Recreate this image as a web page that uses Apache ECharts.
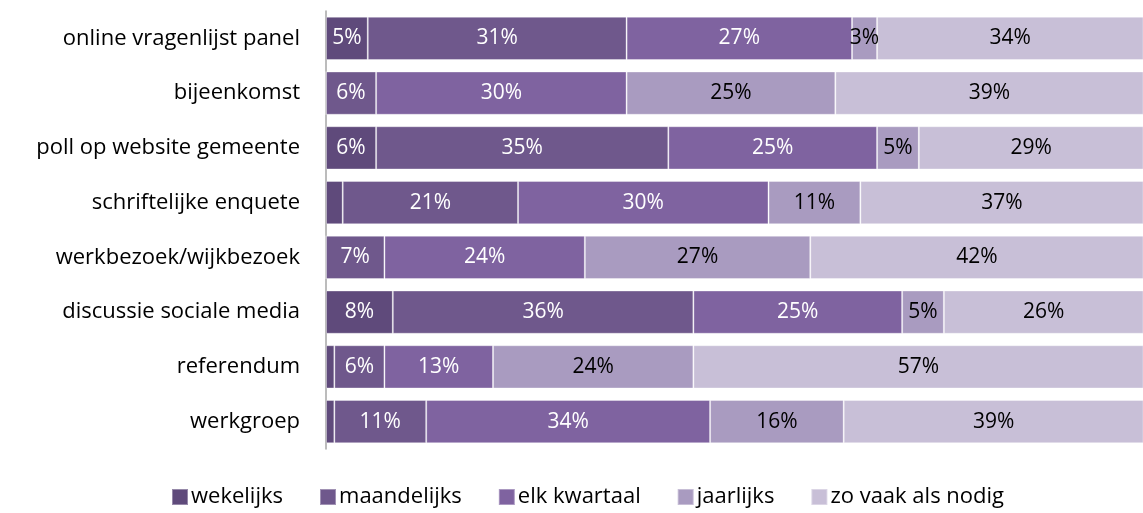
<!DOCTYPE html>
<html>
<head>
<meta charset="utf-8">
<script src="https://cdn.jsdelivr.net/npm/echarts@6/dist/echarts.min.js"></script>
<style>
  html, body { margin: 0; padding: 0; background: #fff; }
  #main { width: 1143px; height: 513px; }
</style>
</head>
<body>
<div id="main"></div>
<script>
// categories, top to bottom as in the picture
const categories = [
  'online vragenlijst panel',
  'bijeenkomst',
  'poll op website gemeente',
  'schriftelijke enquete',
  'werkbezoek/wijkbezoek',
  'discussie sociale media',
  'referendum',
  'werkgroep'
]
const seriesNames = ['wekelijks', 'maandelijks', 'elk kwartaal', 'jaarlijks', 'zo vaak als nodig']

// percentages per series, same order as categories
const wekelijks   = [5, 0, 6, 2, 0, 8, 1, 1]
const maandelijks = [31, 6, 35, 21, 7, 36, 6, 11]
const kwartaal    = [27, 30, 25, 30, 24, 25, 13, 34]
const jaarlijks   = [3, 25, 5, 11, 27, 5, 24, 16]
const zoVaak      = [34, 39, 29, 37, 42, 26, 57, 39]

const colors = ['#5f4a7b', '#6f588c', '#7f63a0', '#a99bc0', '#c8bfd7']
const labelColors = ['#fff', '#fff', '#fff', '#000', '#000']
const values = [wekelijks, maandelijks, kwartaal, jaarlijks, zoVaak]

let myChart = echarts.init(document.getElementById('main'))

// de rechterkant van de grafiek is afgesneden in het origineel, dus max iets onder 100
let option = {
  animation: false,
  textStyle: { fontFamily: 'Open Sans' },
  grid: { left: 326, top: 11, right: 0, height: 438, containLabel: false },
  legend: {
    bottom: 0,
    left: 166,
    itemWidth: 16,
    itemHeight: 16,
    itemGap: 36,
    icon: 'rect',
    textStyle: { fontSize: 22, color: '#000', fontFamily: 'Open Sans', padding: [0, 0, 0, -2] },
    data: seriesNames
  },
  xAxis: {
    type: 'value',
    min: 0,
    max: 97.85,
    show: false
  },
  yAxis: {
    type: 'category',
    inverse: true,
    data: categories,
    axisLine: { show: true, lineStyle: { color: '#a6a6a6', width: 1.5 } },
    axisTick: { show: false },
    axisLabel: { fontSize: 22, color: '#000', margin: 26 }
  },
  series: seriesNames.map(function (name, i) {
    return {
      name: name,
      type: 'bar',
      stack: 'total',
      barCategoryGap: '21%',
      data: values[i],
      itemStyle: { color: colors[i], borderColor: 'rgba(255,255,255,0.35)', borderWidth: 1 },
      label: {
        show: true,
        position: 'inside',
        fontSize: 21,
        color: labelColors[i],
        formatter: function (p) { return p.value >= 3 ? p.value + '%' : '' }
      }
    }
  })
}

myChart.setOption(option)
</script>
</body>
</html>
